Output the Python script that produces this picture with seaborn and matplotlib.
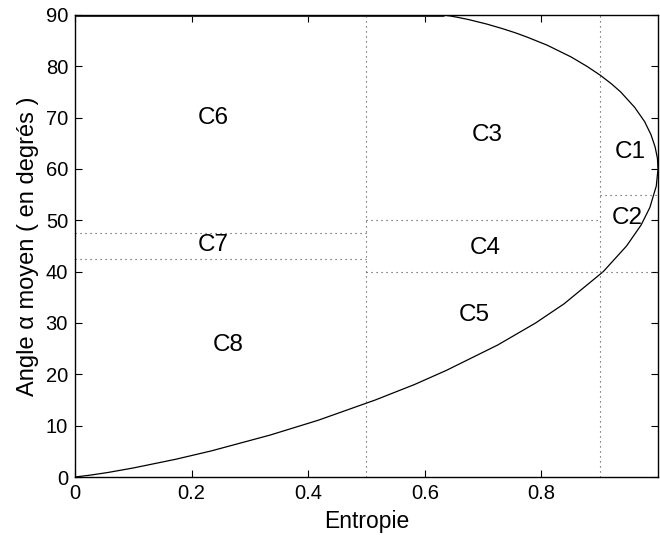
import numpy as np
import pandas as pd
import seaborn as sns
from matplotlib import pyplot as plt

# boundary curve points (entropie, angle alpha)
curve_h = [0.0, 0.026, 0.057, 0.100, 0.173, 0.234, 0.335, 0.417, 0.515, 0.582,
           0.637, 0.725, 0.790, 0.839, 0.906, 0.946, 0.971, 0.986, 0.997, 1.000,
           0.999, 0.995, 0.988, 0.977, 0.960, 0.936, 0.920, 0.901, 0.878, 0.851,
           0.810, 0.775, 0.755, 0.732, 0.706, 0.675, 0.656, 0.643, 0.631]
curve_a = [0.0, 0.36, 0.89, 1.76, 3.46, 5.09, 8.18, 11.05, 15.0, 18.0,
           20.77, 25.71, 30.0, 33.75, 40.0, 45.0, 49.09, 52.5, 56.67, 60.0,
           62.07, 64.29, 66.67, 69.23, 72.0, 75.0, 76.6, 78.26, 80.0, 81.82,
           84.11, 85.71, 86.54, 87.38, 88.24, 89.11, 89.55, 89.82, 90.0]

# top segment of the boundary (alpha = 90)
top_h = [0.0, 0.631]
top_a = [90.0, 90.0]

# zone limits (dotted lines): (x0, x1, y)
h_limits_x0 = [0.0, 0.0, 0.5, 0.5, 0.9]
h_limits_x1 = [0.5, 0.5, 0.9, 1.0, 1.0]
h_limits_y = [47.5, 42.5, 50.0, 40.0, 55.0]
v_limits_x = [0.5, 0.9]

zone_names = ["C1", "C2", "C3", "C4", "C5", "C6", "C7", "C8"]
zone_h = [0.952, 0.947, 0.707, 0.703, 0.684, 0.237, 0.237, 0.262]
zone_a = [63.3, 50.5, 66.6, 44.6, 31.6, 69.9, 45.2, 25.7]

sns.set_theme(style="white")
plt.rcParams['font.family'] = ['Liberation Sans', 'DejaVu Sans']

fig = plt.figure(figsize=(6.6, 5.35), dpi=100)
ax = fig.add_axes([0.1136, 0.1084, 0.8834, 0.8636])

df = pd.DataFrame({"H": curve_h, "alpha": curve_a})
sns.lineplot(data=df, x="H", y="alpha", sort=False, color="black", lw=0.9, ax=ax)
sns.lineplot(x=top_h, y=top_a, color="#333333", lw=2.2, ax=ax)

dot = dict(color="#444444", lw=0.8, linestyle=(0, (1, 3.5)))
for x0, x1, y in zip(h_limits_x0, h_limits_x1, h_limits_y):
    ax.plot([x0, x1], [y, y], **dot)
for x in v_limits_x:
    ax.plot([x, x], [0, 90], **dot)

for name, h, a in zip(zone_names, zone_h, zone_a):
    ax.text(h, a, name, fontsize=17.5, ha="center", va="center", color="black")

ax.set_xlim(0, 1)
ax.set_ylim(0, 90)
ax.set_xticks([0, 0.2, 0.4, 0.6, 0.8])
ax.set_xticklabels(["0", "0.2", "0.4", "0.6", "0.8"])
ax.set_yticks(range(0, 91, 10))
ax.tick_params(direction="in", length=5, width=0.8, top=True, right=True,
               bottom=True, left=True, labelsize=14.5, colors="black", pad=5)
for s in ax.spines.values():
    s.set_color("black")
    s.set_linewidth(1.0)
ax.set_xlabel("Entropie", fontsize=16.5, labelpad=5, color="black")
ax.set_ylabel("Angle α moyen ( en degrés )", fontsize=17, labelpad=5, color="black")

fig.savefig("out.png", dpi=100)
